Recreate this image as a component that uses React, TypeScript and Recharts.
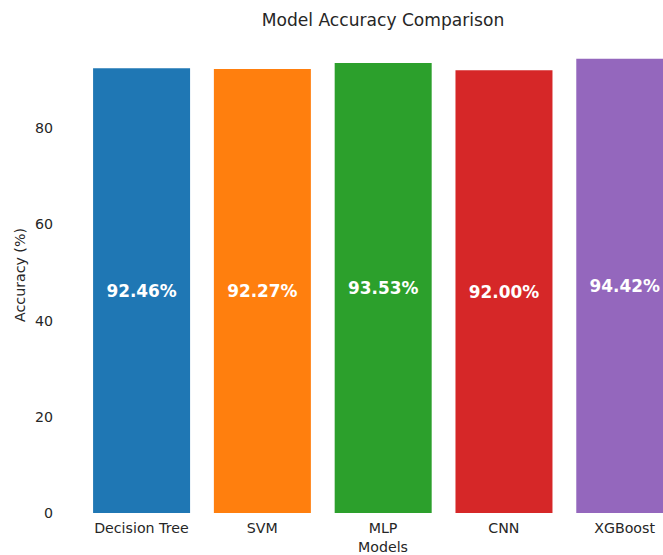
import React from 'react';
import { BarChart, Bar, XAxis, YAxis, Cell, LabelList } from 'recharts';

const models = ['Decision Tree', 'SVM', 'MLP', 'CNN', 'XGBoost'];
const accuracy = [92.46, 92.27, 93.53, 92.0, 94.42];
const barColors = ['#1f77b4', '#ff7f0e', '#2ca02c', '#d62728', '#9467bd'];
const yTicks = [0, 20, 40, 60, 80];

const data = models.map((name, i) => ({ name, accuracy: accuracy[i] }));

const font = '"DejaVu Sans", sans-serif';
const textColor = '#262626';

export default function App() {
  return (
    <div
      style={{
        position: 'absolute',
        left: 0,
        top: 0,
        width: 663,
        height: 555,
        overflow: 'hidden',
        background: '#fff',
        fontFamily: font,
      }}
    >
      <div
        style={{
          position: 'absolute',
          top: 10,
          left: 64,
          width: 638,
          textAlign: 'center',
          fontSize: 17.1,
          lineHeight: '20px',
          color: textColor,
        }}
      >
        Model Accuracy Comparison
      </div>
      <div
        style={{
          position: 'absolute',
          left: 20,
          top: 275,
          transform: 'translate(-50%, -50%) rotate(-90deg)',
          fontSize: 14.2,
          whiteSpace: 'nowrap',
          color: textColor,
        }}
      >
        Accuracy (%)
      </div>
      <div
        style={{
          position: 'absolute',
          top: 540,
          left: 64,
          width: 638,
          textAlign: 'center',
          fontSize: 14.2,
          lineHeight: '14px',
          color: textColor,
        }}
      >
        Models
      </div>
      <div style={{ position: 'absolute', left: 0, top: 0 }}>
        <BarChart
          width={702}
          height={555}
          data={data}
          margin={{ top: 36, right: 0, left: 0, bottom: 0 }}
          barCategoryGap="10%"
        >
          <XAxis
            dataKey="name"
            axisLine={false}
            tickLine={false}
            tickSize={0}
            tickMargin={10}
            height={42}
            padding={{ left: 17, right: 17 }}
            interval={0}
            tick={{ fill: textColor, fontSize: 14.2, fontFamily: font }}
          />
          <YAxis
            width={64}
            domain={[0, 99.14]}
            ticks={yTicks}
            axisLine={false}
            tickLine={false}
            tickSize={0}
            tickMargin={11}
            tick={{ fill: textColor, fontSize: 14.2, fontFamily: font }}
          />
          <Bar dataKey="accuracy" isAnimationActive={false}>
            {data.map((d, i) => (
              <Cell key={d.name} fill={barColors[i]} />
            ))}
            <LabelList
              dataKey="accuracy"
              position="center"
              formatter={(v: number) => `${v.toFixed(2)}%`}
              fill="#ffffff"
              style={{ fontSize: 16.9, fontWeight: 'bold', fontFamily: font }}
            />
          </Bar>
        </BarChart>
      </div>
    </div>
  );
}
